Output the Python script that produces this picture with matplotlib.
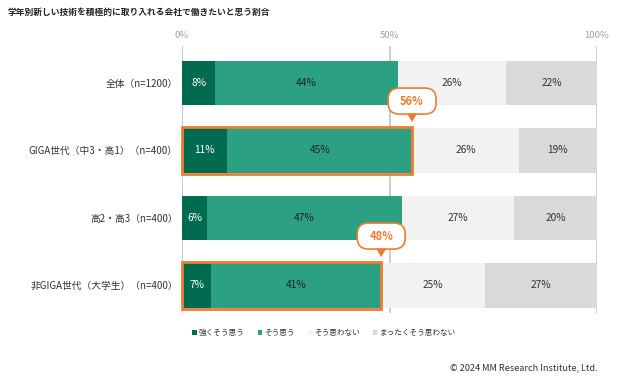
import matplotlib
matplotlib.use("Agg")
import matplotlib.pyplot as plt
from matplotlib.patches import Rectangle, Patch, FancyBboxPatch, Polygon
from matplotlib.transforms import ScaledTranslation
import numpy as np

plt.rcParams['font.family'] = ['Noto Sans CJK JP', 'DejaVu Sans']

title = "学年別新しい技術を積極的に取り入れる会社で働きたいと思う割合"
categories = ["全体（n=1200）", "GIGA世代（中3・高1）（n=400）", "高2・高3（n=400）", "非GIGA世代（大学生）（n=400）"]
series_names = ["強くそう思う", "そう思う", "そう思わない", "まったくそう思わない"]
strongly_agree = [8, 11, 6, 7]
agree = [44, 45, 47, 41]
disagree = [26, 26, 27, 25]
strongly_disagree = [22, 19, 20, 27]
highlight_rows = [1, 3]
highlight_labels = ["56%", "48%"]
xticks = [0, 50, 100]
xtick_labels = ["0%", "50%", "100%"]
credit = "© 2024 MM Research Institute, Ltd."

colors = ["#006B4F", "#2BA083", "#F2F2F2", "#D9D9D9"]
text_colors = ["white", "#222222", "#333333", "#333333"]
orange = "#ED7D31"

fig = plt.figure(figsize=(6.42, 3.78), dpi=100)
ax = fig.add_axes([182/642, 1-313/378, (597-182)/642, (313-46)/378])

data = np.array([strongly_agree, agree, disagree, strongly_disagree], dtype=float)
totals = data.sum(axis=0)
scaled = data / totals * 100
y = np.arange(len(categories))
h = 0.66

for gx in xticks:
    ax.axvline(gx, color="#C8C8C8", lw=1.3, zorder=0)

left = np.zeros(len(categories))
for i in range(4):
    ax.barh(y, scaled[i], left=left, height=h, color=colors[i], zorder=2)
    for j in range(len(categories)):
        ax.text(left[j] + scaled[i][j]/2, y[j], f"{int(data[i][j])}%", ha="center", va="center",
                color=text_colors[i], fontsize=7.3, zorder=4)
    left += scaled[i]

for r, lab in zip(highlight_rows, highlight_labels):
    w = scaled[0][r] + scaled[1][r]
    ax.add_patch(Rectangle((0, r - h/2 - 0.015), w, h + 0.03, fill=False, edgecolor=orange, lw=2.0,
                           zorder=5, clip_on=False))
    tr = fig.dpi_scale_trans + ScaledTranslation(w, r - h/2, ax.transData)
    box = FancyBboxPatch((-0.24, 0.14), 0.48, 0.26, boxstyle="round,pad=0,rounding_size=0.11",
                         fc="white", ec=orange, lw=1.2, transform=tr, zorder=7, clip_on=False)
    ax.add_patch(box)
    tri = Polygon([(-0.05, 0.145), (0.05, 0.145), (0, 0.06)], closed=True, fc=orange, ec="none",
                  transform=tr, zorder=8, clip_on=False)
    ax.add_patch(tri)
    ax.text(0, 0.27, lab, ha="center", va="center", color=orange, fontsize=8, fontweight="bold",
            transform=tr, zorder=9)

ax.set_xlim(0, 100)
ax.set_ylim(3.41, -0.546)
ax.set_yticks(y)
ax.set_yticklabels(categories, fontsize=7, color="#333333")
ax.tick_params(axis="y", length=0, pad=3)
ax.xaxis.tick_top()
ax.set_xticks(xticks)
ax.set_xticklabels(xtick_labels, fontsize=6.8, color="#A0A0A0")
ax.tick_params(axis="x", length=0, pad=4)
for s in ax.spines.values():
    s.set_visible(False)

fig.text(8/642, 1-12/378, title, fontsize=6.3, fontweight="bold", ha="left", va="center", color="#222222")

handles = [Patch(facecolor=c, edgecolor="none") for c in colors]
fig.legend(handles, series_names, loc="center", bbox_to_anchor=(324/642, 1-333/378), ncol=4, frameon=False,
           fontsize=5.5, handlelength=0.55, handleheight=0.55, handletextpad=0.3, columnspacing=1.7,
           labelcolor="#333333")

fig.text(598/642, 1-368/378, credit, fontsize=6.6, ha="right", va="center", color="#333333")

fig.savefig("out.png", dpi=100)
